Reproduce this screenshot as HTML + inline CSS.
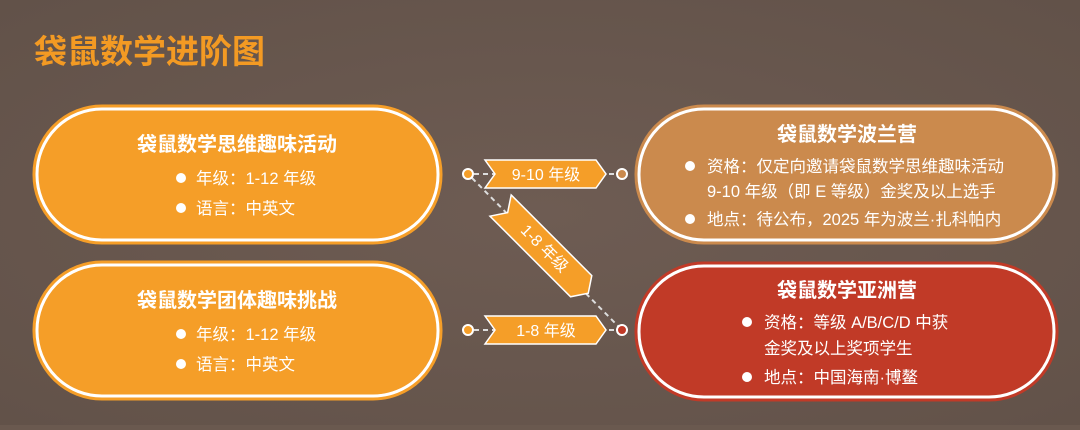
<!DOCTYPE html>
<html><head><meta charset="utf-8"><style>
html,body{margin:0;padding:0}
body{width:1080px;height:425px;overflow:hidden;background:#6a594f;font-family:"Liberation Sans","Noto Sans CJK SC",sans-serif}
svg text{font-family:"Liberation Sans","Noto Sans CJK SC",sans-serif}
</style></head><body>
<svg width="1080" height="425" xmlns="http://www.w3.org/2000/svg">
<defs>
<radialGradient id="bg" cx="0.5" cy="0.5" r="0.7">
<stop offset="0" stop-color="#6e5c53"/><stop offset="1" stop-color="#625249"/>
</radialGradient>
</defs>
<rect width="1080" height="425" fill="url(#bg)"/>
<text x="34" y="63" font-size="33" font-weight="bold" fill="#f39a23">袋鼠数学进阶图</text>

<g stroke-width="3">
<rect x="34" y="106" width="407" height="137" rx="68" fill="#f59e28" stroke="#f59e28"/>
<rect x="37" y="109" width="401" height="131" rx="65" fill="#f59e28" stroke="#fff"/>
<rect x="34" y="262" width="407" height="137" rx="68" fill="#f59e28" stroke="#f59e28"/>
<rect x="37" y="265" width="401" height="131" rx="65" fill="#f59e28" stroke="#fff"/>
<rect x="636" y="106" width="421" height="137" rx="68" fill="#cb8a4d" stroke="#cb8a4d"/>
<rect x="639" y="109" width="415" height="131" rx="65" fill="#cb8a4d" stroke="#fff"/>
<rect x="636" y="263" width="421" height="137" rx="68" fill="#c13a27" stroke="#c13a27"/>
<rect x="639" y="266" width="415" height="131" rx="65" fill="#c13a27" stroke="#fff"/>
</g>

<g fill="#fff" font-size="16.5">
<text x="237" y="151" font-size="20" font-weight="bold" text-anchor="middle">袋鼠数学思维趣味活动</text>
<circle cx="181" cy="178" r="5"/><text x="196" y="184">年级：1-12 年级</text>
<circle cx="181" cy="208" r="5"/><text x="196" y="214">语言：中英文</text>

<text x="237" y="307" font-size="20" font-weight="bold" text-anchor="middle">袋鼠数学团体趣味挑战</text>
<circle cx="181" cy="334" r="5"/><text x="196" y="340">年级：1-12 年级</text>
<circle cx="181" cy="364" r="5"/><text x="196" y="370">语言：中英文</text>

<text x="847" y="141" font-size="20" font-weight="bold" text-anchor="middle">袋鼠数学波兰营</text>
<circle cx="690" cy="166" r="5"/><text x="707" y="172">资格：仅定向邀请袋鼠数学思维趣味活动</text>
<text x="707" y="197">9-10 年级（即 E 等级）金奖及以上选手</text>
<circle cx="690" cy="219" r="5"/><text x="707" y="225">地点：待公布，2025 年为波兰·扎科帕内</text>

<text x="847" y="297" font-size="20" font-weight="bold" text-anchor="middle">袋鼠数学亚洲营</text>
<circle cx="747" cy="322" r="5"/><text x="764" y="328">资格：等级 A/B/C/D 中获</text>
<text x="764" y="354">金奖及以上奖项学生</text>
<circle cx="747" cy="377" r="5"/><text x="764" y="383">地点：中国海南·博鳌</text>
</g>

<g stroke="#ddd" stroke-width="2" stroke-dasharray="5,4" fill="none">
<line x1="474" y1="174" x2="616" y2="174"/>
<line x1="474" y1="330" x2="616" y2="330"/>
<line x1="472" y1="178" x2="618" y2="326"/>
</g>
<g stroke="#fff" stroke-width="2">
<circle cx="468" cy="174" r="5" fill="#f59e28"/>
<circle cx="468" cy="330" r="5" fill="#f59e28"/>
<circle cx="622" cy="174" r="5" fill="#cb8a4d"/>
<circle cx="622" cy="330" r="5" fill="#c13a27"/>
</g>
<g fill="#f59e28" stroke="#fff" stroke-width="1.5">
<polygon points="485,160 596,160 606,174 596,188 485,188 495,174"/>
<polygon points="485,316 596,316 606,330 596,344 485,344 495,330"/>
<g transform="translate(543,248) rotate(45)">
<polygon points="-60,-15 54,-15 64,0 54,15 -60,15 -50,0"/>
</g>
</g>
<g fill="#fff" font-size="16">
<text x="546" y="180" text-anchor="middle">9-10 年级</text>
<text x="546" y="336" text-anchor="middle">1-8 年级</text>
<text transform="translate(545,248) rotate(45)" y="6" text-anchor="middle">1-8 年级</text>
</g>
</svg>
</body></html>
